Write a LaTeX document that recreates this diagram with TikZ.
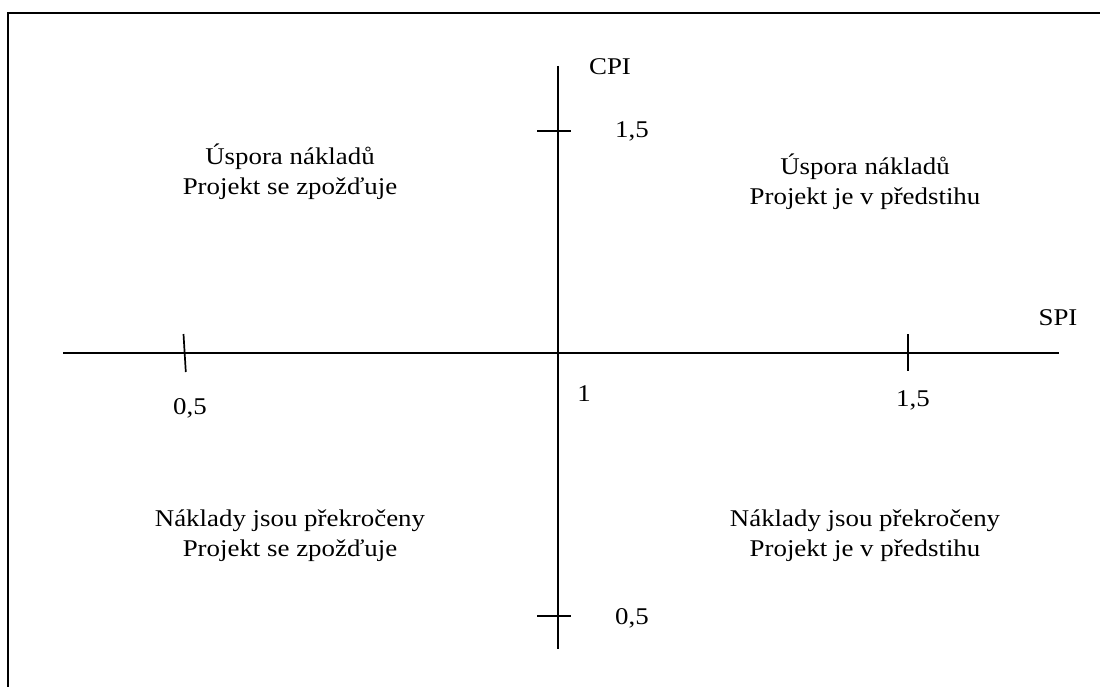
\documentclass[tikz,border=0pt]{standalone}
\usepackage{fontspec}
\setmainfont{Liberation Serif}
\newcommand\widetext[1]{\scalebox{1.12}[1]{#1}}
\begin{document}
\begin{tikzpicture}[x=1pt,y=-1pt,
  axis/.style={line width=1.7pt},
  tickmark/.style={line width=1.7pt},
  frameline/.style={line width=2.2pt},
  lbl/.style={inner sep=0pt,anchor=base,font=\fontsize{24}{30}\selectfont}]
\useasboundingbox (0,0) rectangle (1100,687);
% partial frame
\coordinate (fb) at (8,687);
\coordinate (fc) at (8,13);
\coordinate (fr) at (1100,13);
\draw[frameline] (fb) -- (fc) -- (fr);
% axes
\coordinate (xl) at (63,352.7);
\coordinate (xr) at (1059,352.7);
\coordinate (yt) at (558.3,66);
\coordinate (yb) at (558.3,649);
\draw[axis] (xl) -- (xr);
\draw[axis] (yt) -- (yb);
% tick marks
\coordinate (t1a) at (183.5,334); \coordinate (t1b) at (185.8,372);
\coordinate (t2a) at (908,334);   \coordinate (t2b) at (908,371);
\coordinate (t3a) at (537,130.7); \coordinate (t3b) at (571,130.7);
\coordinate (t4a) at (537,616);   \coordinate (t4b) at (571,616);
\draw[tickmark] (t1a) -- (t1b);
\draw[tickmark] (t2a) -- (t2b);
\draw[tickmark] (t3a) -- (t3b);
\draw[tickmark] (t4a) -- (t4b);
% axis labels and values
\node[lbl] (cpi) at (610,75) {\widetext{CPI}};
\node[lbl] (spi) at (1058,325) {\widetext{SPI}};
\node[lbl] (v15) at (632,138) {\widetext{1,5}};
\node[lbl] (v05) at (632,624) {\widetext{0,5}};
\node[lbl] (h05) at (190,414) {\widetext{0,5}};
\node[lbl] (h15) at (913,406) {\widetext{1,5}};
\node[lbl] (one) at (584,401) {\widetext{1}};
% quadrant descriptions
\node[lbl] (ul1) at (290,165) {\widetext{Úspora nákladů}};
\node[lbl] (ul2) at (290,195) {\widetext{Projekt se zpožďuje}};
\node[lbl] (ur1) at (865,175) {\widetext{Úspora nákladů}};
\node[lbl] (ur2) at (865,205) {\widetext{Projekt je v předstihu}};
\node[lbl] (ll1) at (290,526) {\widetext{Náklady jsou překročeny}};
\node[lbl] (ll2) at (290,556) {\widetext{Projekt se zpožďuje}};
\node[lbl] (lr1) at (865,526) {\widetext{Náklady jsou překročeny}};
\node[lbl] (lr2) at (865,556) {\widetext{Projekt je v předstihu}};
\end{tikzpicture}
\end{document}
